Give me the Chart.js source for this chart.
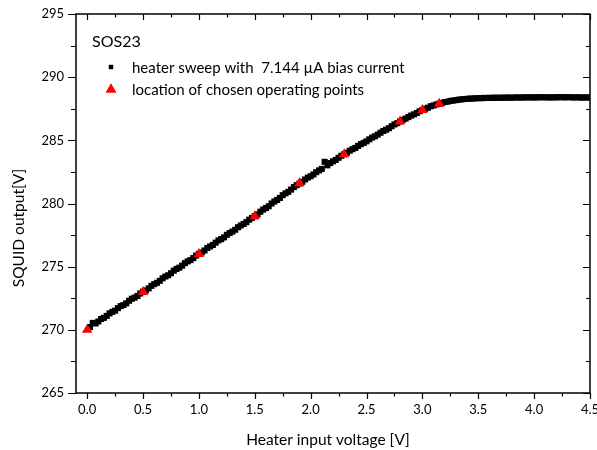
<!DOCTYPE html>
<html>
<head>
<meta charset="utf-8">
<script src="https://cdn.jsdelivr.net/npm/chart.js@4/dist/chart.umd.min.js"></script>
<style>
  html, body { margin: 0; padding: 0; background: #fff; }
  #wrap { width: 597px; height: 450px; }
</style>
</head>
<body>
<div id="wrap"><canvas id="c" width="597" height="450"></canvas></div>
<script>
// Heater sweep of SOS23: SQUID output versus heater input voltage
const sweepVoltage = [
  0.025,0.05,0.075,0.1,0.125,0.15,0.175,0.2,0.225,0.25,0.275,0.3,0.325,0.35,0.375,0.4,0.425,0.45,0.475,0.5,
  0.525,0.55,0.575,0.6,0.625,0.65,0.675,0.7,0.725,0.75,0.775,0.8,0.825,0.85,0.875,0.9,0.925,0.95,0.975,1.0,
  1.025,1.05,1.075,1.1,1.125,1.15,1.175,1.2,1.225,1.25,1.275,1.3,1.325,1.35,1.375,1.4,1.425,1.45,1.475,1.5,
  1.525,1.55,1.575,1.6,1.625,1.65,1.675,1.7,1.725,1.75,1.775,1.8,1.825,1.85,1.875,1.9,1.925,1.95,1.975,2.0,
  2.025,2.05,2.075,2.1,2.125,2.15,2.175,2.2,2.225,2.25,2.275,2.3,2.325,2.35,2.375,2.4,2.425,2.45,2.475,2.5,
  2.525,2.55,2.575,2.6,2.625,2.65,2.675,2.7,2.725,2.75,2.775,2.8,2.825,2.85,2.875,2.9,2.925,2.95,2.975,3.0,
  3.025,3.05,3.075,3.1,3.125,3.15,3.175,3.2,3.225,3.25,3.275,3.3,3.325,3.35,3.375,3.4,3.425,3.45,3.475,3.5,
  3.525,3.55,3.575,3.6,3.625,3.65,3.675,3.7,3.725,3.75,3.775,3.8,3.825,3.85,3.875,3.9,3.925,3.95,3.975,4.0,
  4.025,4.05,4.075,4.1,4.125,4.15,4.175,4.2,4.225,4.25,4.275,4.3,4.325,4.35,4.375,4.4,4.425,4.45,4.475,4.5
];
const sweepOutput = [
  270.22,270.55,270.50,270.66,270.86,270.95,271.10,271.30,271.42,271.52,271.72,271.88,271.96,272.10,272.30,272.46,272.55,272.68,272.88,273.02,
  273.12,273.28,273.48,273.62,273.72,273.88,274.08,274.22,274.32,274.48,274.68,274.82,274.92,275.08,275.28,275.42,275.52,275.68,275.88,276.02,
  276.12,276.28,276.48,276.60,276.72,276.90,277.08,277.18,277.32,277.52,277.66,277.78,277.92,278.12,278.26,278.38,278.52,278.72,278.86,279.00,
  279.14,279.35,279.52,279.64,279.78,280.00,280.16,280.28,280.44,280.66,280.80,280.92,281.10,281.30,281.45,281.58,281.72,281.90,282.05,282.16,
  282.30,282.48,282.62,282.74,283.30,283.02,283.20,283.34,283.45,283.62,283.78,283.90,284.02,284.18,284.30,284.40,284.56,284.70,284.80,284.92,
  285.08,285.22,285.32,285.45,285.60,285.74,285.84,285.96,286.12,286.26,286.36,286.50,286.62,286.72,286.84,286.96,287.06,287.16,287.30,287.40,
  287.50,287.58,287.70,287.76,287.84,287.90,287.96,288.03,288.06,288.12,288.15,288.18,288.22,288.24,288.27,288.28,288.31,288.30,288.33,288.34,
  288.33,288.36,288.35,288.37,288.36,288.38,288.36,288.38,288.37,288.39,288.38,288.37,288.39,288.40,288.38,288.40,288.39,288.41,288.40,288.39,
  288.41,288.40,288.42,288.40,288.41,288.39,288.41,288.40,288.42,288.41,288.40,288.42,288.41,288.39,288.41,288.40,288.38,288.40,288.39,288.40
];

// Chosen operating points along the sweep
const opVoltage = [0.0, 0.5, 1.0, 1.5, 1.9, 2.3, 2.8, 3.0, 3.15];
const opOutput  = [270.0, 273.0, 276.0, 279.0, 281.6, 283.9, 286.5, 287.4, 287.9];

// Axis ticks
const xTickValues = [0.0, 0.5, 1.0, 1.5, 2.0, 2.5, 3.0, 3.5, 4.0, 4.5];
const xMinorValues = [0.25, 0.75, 1.25, 1.75, 2.25, 2.75, 3.25, 3.75, 4.25];
const yTickValues = [265, 270, 275, 280, 285, 290, 295];
const yMinorValues = [267.5, 272.5, 277.5, 282.5, 287.5, 292.5];

const sampleName = 'SOS23';
const sweepLabel = 'heater sweep with  7.144 \u00B5A bias current';
const opLabel = 'location of chosen operating points';
const xTitle = 'Heater input voltage [V]';
const yTitle = 'SQUID output[V]';

const FONT = 'Lato, "Open Sans", "DejaVu Sans", sans-serif';
Chart.defaults.font.family = FONT;
Chart.defaults.color = '#000';

const frameAndLegend = {
  id: 'frameAndLegend',
  afterDraw(chart) {
    const { ctx, chartArea: a, scales } = chart;
    const xs = scales.x, ys = scales.y;
    ctx.save();
    ctx.strokeStyle = '#000';
    ctx.lineWidth = 1.5;
    ctx.strokeRect(a.left, a.top, a.right - a.left, a.bottom - a.top);

    ctx.lineWidth = 1.2;
    ctx.beginPath();
    const xt = (vals, len) => vals.forEach(v => {
      const px = Math.round(xs.getPixelForValue(v)) + 0.5;
      ctx.moveTo(px, a.bottom); ctx.lineTo(px, a.bottom + len);   // bottom, outward
      ctx.moveTo(px, a.top); ctx.lineTo(px, a.top + len);         // top, inward
    });
    const yt = (vals, len) => vals.forEach(v => {
      const py = Math.round(ys.getPixelForValue(v)) + 0.5;
      ctx.moveTo(a.left - len - 1, py); ctx.lineTo(a.left, py);   // left, outward
      ctx.moveTo(a.right - len, py); ctx.lineTo(a.right, py);     // right, inward
    });
    xt(xTickValues, 6); xt(xMinorValues, 3.5);
    yt(yTickValues, 7); yt(yMinorValues, 4);
    ctx.stroke();

    // axis titles
    ctx.fillStyle = '#000';
    ctx.font = '15.5px ' + FONT;
    ctx.textAlign = 'center';
    ctx.textBaseline = 'middle';
    ctx.fillText(xTitle, 328, 440);
    ctx.save();
    ctx.translate(19, 228);
    ctx.rotate(-Math.PI / 2);
    ctx.fillText(yTitle, 0, 0);
    ctx.restore();

    // in-plot legend
    ctx.textAlign = 'left';
    ctx.font = '16px ' + FONT;
    ctx.fillText(sampleName, 92, 42);
    ctx.font = '15px ' + FONT;
    ctx.fillText(sweepLabel, 132, 68);
    ctx.fillText(opLabel, 132, 90);
    Chart.helpers.drawPoint(ctx, { pointStyle: 'rect', radius: 3, rotation: 0, borderWidth: 0 }, 111, 67);
    ctx.fillStyle = '#000';
    ctx.fill();
    ctx.fillStyle = '#ff0000';
    Chart.helpers.drawPoint(ctx, { pointStyle: 'triangle', radius: 6, rotation: 0, borderWidth: 0 }, 111, 89.5);
    ctx.fill();
    ctx.restore();
  }
};

new Chart(document.getElementById('c'), {
  type: 'scatter',
  data: {
    datasets: [
      {
        label: opLabel,
        data: opVoltage.map((v, i) => ({ x: v, y: opOutput[i] })),
        pointStyle: 'triangle',
        pointRadius: 6,
        backgroundColor: '#ff0000',
        borderColor: '#ff0000',
        borderWidth: 0,
        order: 0
      },
      {
        label: sweepLabel,
        data: sweepVoltage.map((v, i) => ({ x: v, y: sweepOutput[i] })),
        pointStyle: 'rect',
        pointRadius: 4.3,
        backgroundColor: '#000',
        borderColor: '#000',
        borderWidth: 0,
        order: 1
      }
    ]
  },
  options: {
    responsive: false,
    animation: false,
    events: [],
    layout: { padding: { top: 14, right: 7, left: 0, bottom: 0 } },
    plugins: { legend: { display: false }, tooltip: { enabled: false } },
    scales: {
      x: {
        type: 'linear',
        min: -0.1,
        max: 4.5,
        grid: { display: false, drawTicks: false },
        border: { display: false },
        afterBuildTicks: s => { s.ticks = xTickValues.map(v => ({ value: v })); },
        afterFit: s => { s.height = 57; s.paddingLeft = 0; s.paddingRight = 0; },
        ticks: {
          padding: 9,
          maxRotation: 0,
          autoSkip: false,
          font: { size: 13 },
          callback: v => Number(v).toFixed(1)
        }
      },
      y: {
        type: 'linear',
        min: 265,
        max: 295,
        grid: { display: false, drawTicks: false },
        border: { display: false },
        afterBuildTicks: s => { s.ticks = yTickValues.map(v => ({ value: v })); },
        afterFit: s => { s.width = 76; s.paddingTop = 0; s.paddingBottom = 0; },
        ticks: {
          padding: 12,
          autoSkip: false,
          font: { size: 13 },
          callback: v => String(v)
        }
      }
    }
  },
  plugins: [frameAndLegend]
});
</script>
</body>
</html>
